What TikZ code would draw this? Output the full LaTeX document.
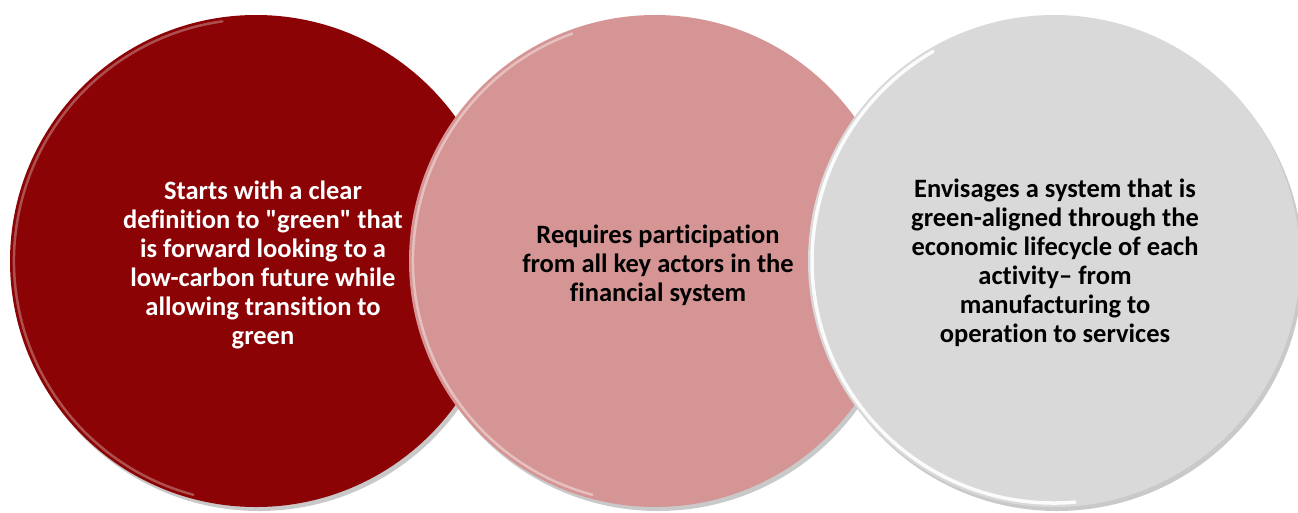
\documentclass[tikz,border=0pt]{standalone}
\usepackage{fontspec}
\setmainfont[Ligatures=CommonOff]{Carlito}
\usetikzlibrary{shadows}

\definecolor{darkred}{HTML}{8B0304}
\definecolor{rosepink}{HTML}{D69595}
\definecolor{lightgray}{HTML}{D9D9D9}

\begin{document}
\begin{tikzpicture}[x=1pt, y=-1pt,
    ball/.style={circle, minimum size=492pt, inner sep=0pt,
        drop shadow={shadow xshift=3pt, shadow yshift=-4pt, opacity=.3, fill=black!70}},
    rim/.style={white, line width=2.5pt, line cap=round},
    blurb/.style={align=center, font=\fontsize{26.5}{29}\selectfont\bfseries}]

    % Page size
    \def\radius{246}
    \def\rimr{242}
    \useasboundingbox (0,0) rectangle (1298,512);

    % Centers of the circles
    \coordinate (c1) at (256,261);
    \coordinate (c2) at (655,261);
    \coordinate (c3) at (1054,261);

    % Circles, left to right (each one on top of the last)
    \node[ball, fill=darkred] (ball1) at (c1) {};
    \draw[rim, opacity=.3] (c1) ++(105:\rimr) arc[start angle=105, end angle=262, radius=\rimr];

    \node[ball, fill=rosepink] (ball2) at (c2) {};
    \draw[rim, opacity=.4] (c2) ++(105:\rimr) arc[start angle=105, end angle=250, radius=\rimr];

    \node[ball, fill=lightgray] (ball3) at (c3) {};
    \draw[rim, opacity=.9, line width=3.5pt] (c3) ++(85:\rimr) arc[start angle=85, end angle=240, radius=\rimr];

    % Texts
    \node[blurb, text=white] (text1) at (263,265) {Starts with a clear\\definition to \textquotedbl green\textquotedbl{} that\\is forward looking to a\\low-carbon future while\\allowing transition to\\green};
    \node[blurb, text=black] (text2) at (658,265) {Requires participation\\from all key actors in the\\financial system};
    \node[blurb, text=black] (text3) at (1055,263) {Envisages a system that is\\green-aligned through the\\economic lifecycle of each\\activity\textendash{} from\\manufacturing to\\operation to services};

\end{tikzpicture}
\end{document}
